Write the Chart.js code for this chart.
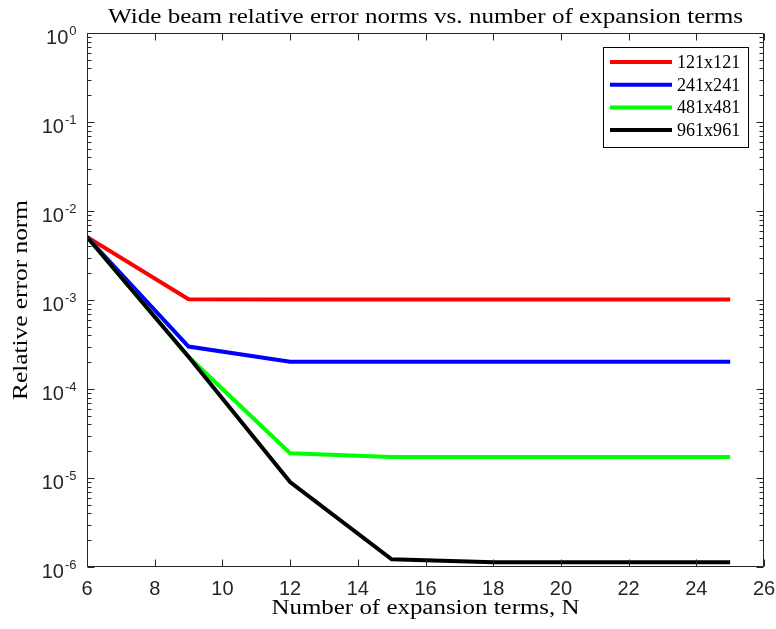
<!DOCTYPE html>
<html><head><meta charset="utf-8">
<script src="https://cdn.jsdelivr.net/npm/chart.js@4.4.0/dist/chart.umd.min.js"></script>
<style>html,body{margin:0;padding:0;background:#fff;} #wrap{width:776px;height:629px;}</style>
</head><body><div id="wrap"><canvas id="c" width="776" height="629"></canvas></div>
<script>
// ---- data ----
const termsN = [6, 9, 12, 15, 18, 21, 24, 25];
const err121 = [5.1e-3, 1.02e-3, 1.01e-3, 1.01e-3, 1.01e-3, 1.01e-3, 1.01e-3, 1.01e-3];
const err241 = [5.1e-3, 3.0e-4, 2.03e-4, 2.03e-4, 2.03e-4, 2.03e-4, 2.03e-4, 2.03e-4];
const err481 = [5.1e-3, 2.3e-4, 1.9e-5, 1.72e-5, 1.72e-5, 1.72e-5, 1.72e-5, 1.72e-5];
const err961 = [5.1e-3, 2.3e-4, 9.0e-6, 1.22e-6, 1.13e-6, 1.13e-6, 1.13e-6, 1.13e-6];
const seriesLabels = ['121x121', '241x241', '481x481', '961x961'];
const xTickValues = [6, 8, 10, 12, 14, 16, 18, 20, 22, 24, 26];
const yTickExponents = [0, -1, -2, -3, -4, -5, -6];
const titleText = 'Wide beam relative error norms vs. number of expansion terms';
const xTitleText = 'Number of expansion terms, N';
const yTitleText = 'Relative error norm';

// ---- styles ----
const seriesColors = ['#ff0000', '#0000ff', '#00ff00', '#000000'];
const seriesValues = [err121, err241, err481, err961];
const AXIS = '#262626';
const SANS = '"Liberation Sans", Arial, sans-serif';
const SERIF = '"Liberation Serif", "Times New Roman", serif';

const datasets = seriesValues.map((vals, i) => ({
  label: seriesLabels[i],
  data: termsN.map((n, j) => ({ x: n, y: vals[j] })),
  borderColor: seriesColors[i],
  backgroundColor: seriesColors[i],
  borderWidth: 4,
  pointRadius: 0,
  tension: 0,
  fill: false,
  order: seriesValues.length - 1 - i
}));

function drawText(ctx, text, x, y, align, sx) {
  ctx.save();
  ctx.translate(x, y);
  ctx.scale(sx, 1);
  ctx.textAlign = align;
  ctx.fillText(text, 0, 0);
  ctx.restore();
}
function fitScale(ctx, text, target) {
  return target / ctx.measureText(text).width;
}

const matlabAxes = {
  id: 'matlabAxes',
  afterDraw(chart) {
    const ctx = chart.ctx, xs = chart.scales.x, ys = chart.scales.y, a = chart.chartArea;
    const L = Math.round(a.left) + 0.5, R = Math.round(a.right) - 0.5;
    const T = Math.round(a.top) + 0.5, B = Math.round(a.bottom) - 0.5;
    ctx.save();
    ctx.strokeStyle = AXIS; ctx.lineWidth = 1;
    ctx.beginPath();
    ctx.rect(L, T, R - L, B - T);
    // x ticks
    xTickValues.forEach(v => {
      const px = Math.round(xs.getPixelForValue(v)) + 0.5;
      ctx.moveTo(px, B); ctx.lineTo(px, B - 7);
      ctx.moveTo(px, T); ctx.lineTo(px, T + 7);
    });
    // y major ticks
    yTickExponents.forEach(e => {
      const py = Math.round(ys.getPixelForValue(Math.pow(10, e))) + 0.5;
      ctx.moveTo(L, py); ctx.lineTo(L + 7, py);
      ctx.moveTo(R, py); ctx.lineTo(R - 7, py);
    });
    // y minor ticks
    for (let e = -6; e < 0; e++) {
      for (let m = 2; m <= 9; m++) {
        const py = Math.round(ys.getPixelForValue(m * Math.pow(10, e))) + 0.5;
        ctx.moveTo(L, py); ctx.lineTo(L + 4, py);
        ctx.moveTo(R, py); ctx.lineTo(R - 4, py);
      }
    }
    ctx.stroke();

    // tick labels
    ctx.fillStyle = AXIS;
    ctx.textBaseline = 'alphabetic';
    ctx.font = '20px ' + SANS;
    xTickValues.forEach(v => {
      drawText(ctx, String(v), xs.getPixelForValue(v), B + 28, 'center', 1);
    });
    yTickExponents.forEach(e => {
      const py = ys.getPixelForValue(Math.pow(10, e));
      const expStr = String(e);
      ctx.font = '13px ' + SANS;
      const wExp = ctx.measureText(expStr).width;
      const right = L - 11;
      drawText(ctx, expStr, right, py + 2, 'right', 1);
      ctx.font = '20px ' + SANS;
      drawText(ctx, '10', right - wExp - 1, py + 11, 'right', 1);
    });

    // titles (serif)
    ctx.fillStyle = '#000';
    ctx.font = '22px ' + SERIF;
    drawText(ctx, titleText, (L + R) / 2, 23, 'center', fitScale(ctx, titleText, 635));
    ctx.font = '20px ' + SERIF;
    drawText(ctx, xTitleText, (L + R) / 2, 614, 'center', fitScale(ctx, xTitleText, 308));
    ctx.save();
    ctx.translate(27, (T + B) / 2);
    ctx.rotate(-Math.PI / 2);
    drawText(ctx, yTitleText, 0, 0, 'center', fitScale(ctx, yTitleText, 200));
    ctx.restore();

    // legend
    const lx = 603, ly = 47, lw = 145, lh = 100;
    ctx.fillStyle = '#fff';
    ctx.fillRect(lx, ly, lw, lh);
    ctx.strokeStyle = '#000'; ctx.lineWidth = 1;
    ctx.strokeRect(lx + 0.5, ly + 0.5, lw, lh);
    ctx.font = '19px ' + SERIF;
    chart.data.datasets.forEach((ds, i) => {
      const ry = ly + 15 + i * 22.7;
      ctx.strokeStyle = ds.borderColor; ctx.lineWidth = 4;
      ctx.beginPath(); ctx.moveTo(lx + 7, ry); ctx.lineTo(lx + 69, ry); ctx.stroke();
      ctx.fillStyle = '#000';
      ctx.textBaseline = 'middle';
      drawText(ctx, ds.label, lx + 74, ry + 1, 'left', 0.95);
    });
    ctx.restore();
  }
};

new Chart(document.getElementById('c'), {
  type: 'line',
  data: { datasets },
  options: {
    responsive: false,
    animation: false,
    layout: { padding: { top: 33, right: 12, left: 0, bottom: 0 } },
    plugins: { legend: { display: false }, tooltip: { enabled: false }, title: { display: false } },
    scales: {
      x: {
        type: 'linear', min: 6, max: 26,
        grid: { display: false }, border: { display: false },
        ticks: { display: false, stepSize: 2 },
        afterFit(s) { s.height = 62; }
      },
      y: {
        type: 'logarithmic', min: 1e-6, max: 1,
        grid: { display: false }, border: { display: false },
        ticks: { display: false },
        afterFit(s) { s.width = 87; }
      }
    }
  },
  plugins: [matlabAxes]
});
</script>
</body></html>
